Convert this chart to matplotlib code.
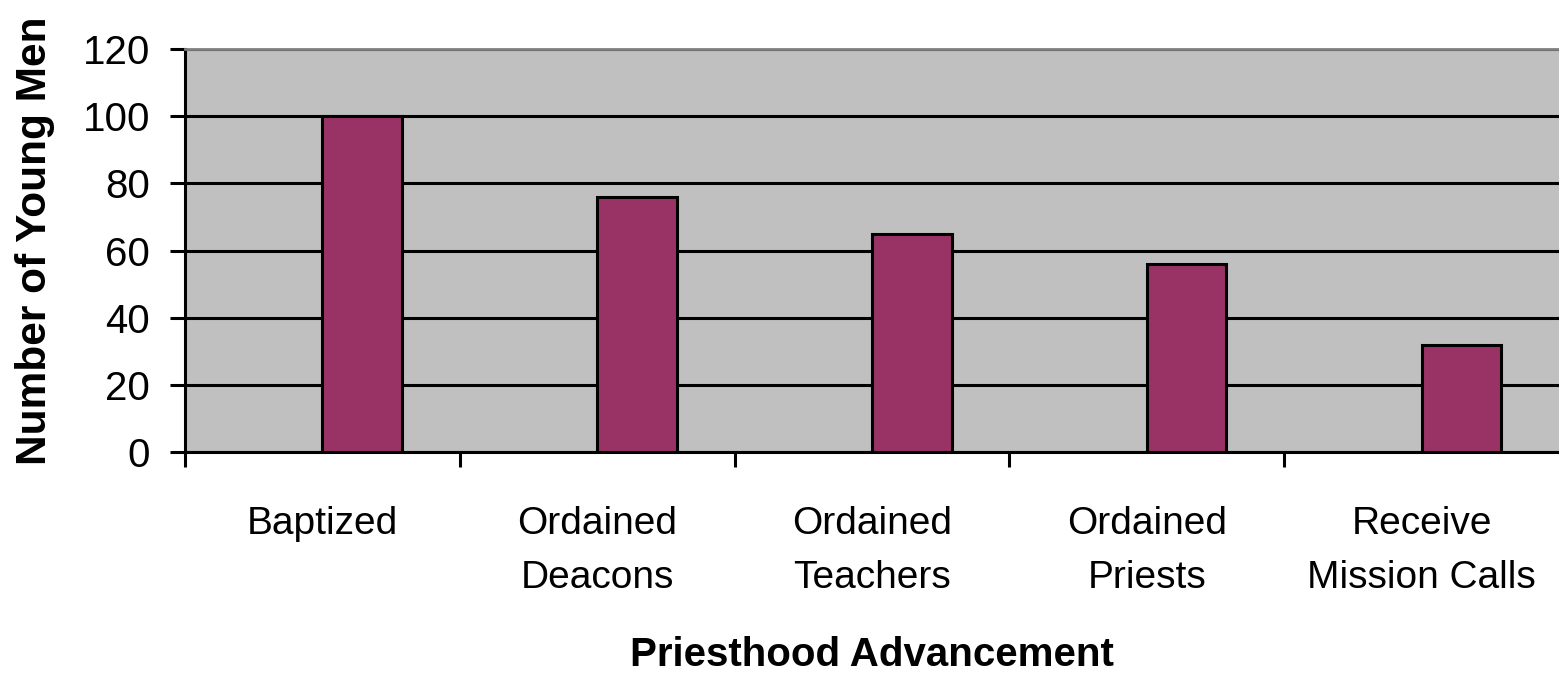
import matplotlib.pyplot as plt
import numpy as np

categories = ['Baptized', 'Ordained\nDeacons', 'Ordained\nTeachers',
              'Ordained\nPriests', 'Receive\nMission Calls']
young_men = [100, 76, 65, 56, 32]
y_ticks = [0, 20, 40, 60, 80, 100, 120]

plt.rcParams['font.family'] = ['Liberation Sans', 'DejaVu Sans']

fig = plt.figure(figsize=(15.59, 6.76), dpi=100)
ax = fig.add_axes([185/1559, 1-452/676, 1-185/1559, (452-49)/676])
ax.set_facecolor('#c0c0c0')

x = np.arange(len(categories))
ax.bar(x, young_men, width=0.29, align='edge', color='#993366',
       edgecolor='black', linewidth=2.2, zorder=3)

ax.set_xlim(-0.5, len(categories) - 0.5)
ax.set_ylim(0, 120)
ax.set_yticks(y_ticks)
ax.yaxis.grid(True, color='black', linewidth=2.2, zorder=1)
ax.set_axisbelow(True)

# category boundaries get tick marks, labels sit at the centres
ax.set_xticks(np.arange(len(categories)) - 0.5)
ax.set_xticklabels([])
ax.set_xticks(x, minor=True)
ax.set_xticklabels(categories, minor=True, fontsize=28, linespacing=1.62)
ax.tick_params(axis='x', which='minor', length=0, pad=39)
ax.tick_params(axis='x', which='major', length=11, width=2.2, direction='out')
ax.tick_params(axis='y', length=11, width=2.2, labelsize=29, pad=14)

ax.spines['top'].set_color('#808080')
ax.spines['top'].set_linewidth(2)
ax.spines['right'].set_visible(False)
ax.spines['left'].set_linewidth(2.2)
ax.spines['bottom'].set_linewidth(2.2)

ax.set_ylabel('Number of Young Men', fontsize=30.5, fontweight='bold', labelpad=20)
ax.yaxis.label.set_y(0.525)
ax.set_xlabel('Priesthood Advancement', fontsize=29, fontweight='bold', labelpad=29)

fig.savefig('out.png', dpi=100)
